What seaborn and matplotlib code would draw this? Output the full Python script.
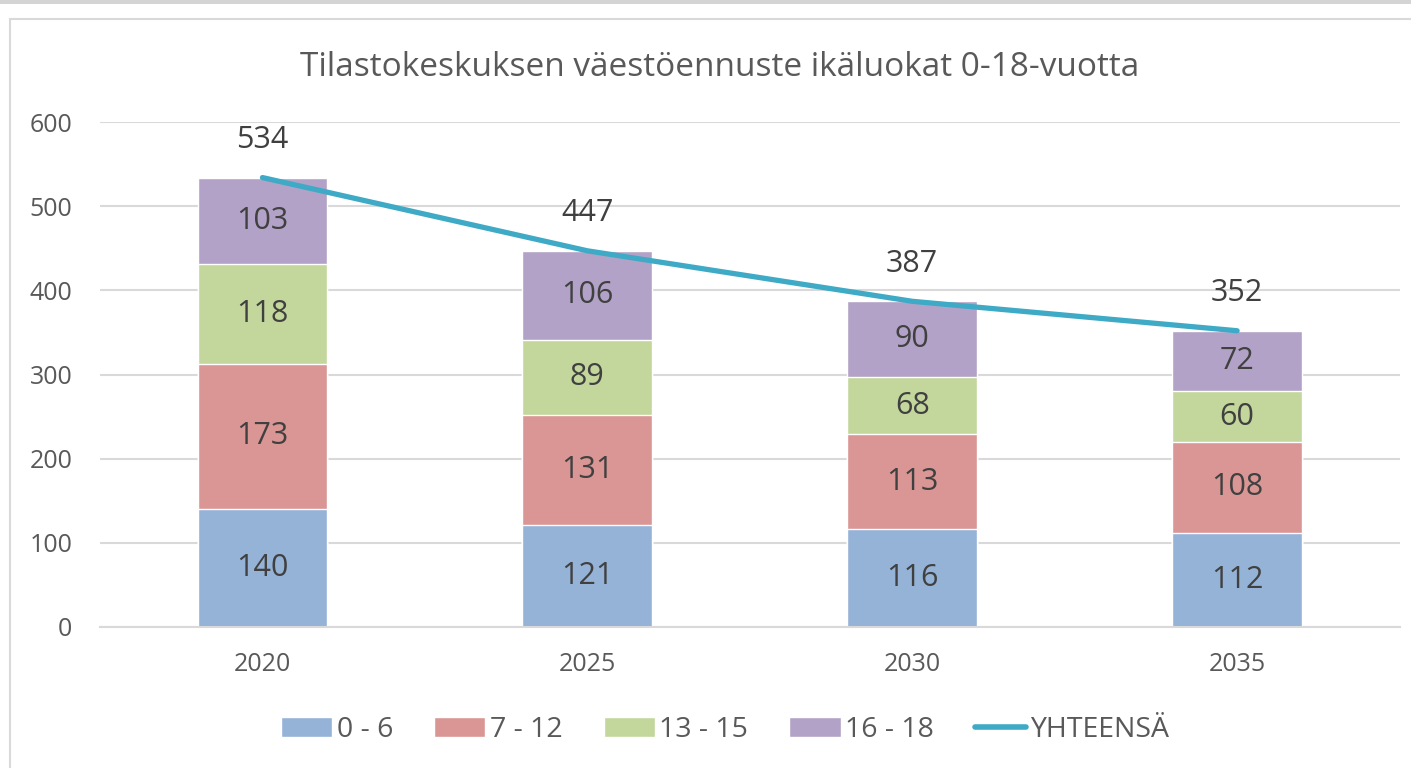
import numpy as np
import pandas as pd
import matplotlib.pyplot as plt
import seaborn as sns
from matplotlib.patches import Patch, Rectangle
from matplotlib.lines import Line2D

# Data
years = ["2020", "2025", "2030", "2035"]
groups = ["0 - 6", "7 - 12", "13 - 15", "16 - 18"]
age_0_6 = [140, 121, 116, 112]
age_7_12 = [173, 131, 113, 108]
age_13_15 = [118, 89, 68, 60]
age_16_18 = [103, 106, 90, 72]
totals = [534, 447, 387, 352]

colors = ["#95b3d7", "#d99694", "#c3d69b", "#b3a2c7"]
line_color = "#3eaac6"
text_dark = "#404040"
text_gray = "#595959"

sns.set_theme(style="white")
plt.rcParams["font.family"] = ["Open Sans", "DejaVu Sans"]

df = pd.DataFrame({"year": years, "0 - 6": age_0_6, "7 - 12": age_7_12,
                   "13 - 15": age_13_15, "16 - 18": age_16_18})

fig = plt.figure(figsize=(14.11, 7.68), dpi=100)
ax = fig.add_axes([0.0709, 0.1836, 0.921, 0.6575])

# stacked bars: draw cumulative sums from top down
cum = df[groups].cumsum(axis=1)
for g, c in reversed(list(zip(groups, colors))):
    sns.barplot(x=df["year"], y=cum[g], color=c, width=0.4, saturation=1,
                ax=ax, order=years)

# segment labels
for i in range(len(years)):
    bottom = 0
    for g in groups:
        v = df[g][i]
        ax.text(i, bottom + v / 2, str(v), ha="center", va="center",
                fontsize=22, color=text_dark)
        bottom += v

# total line
x_pos = np.arange(len(years))
sns.lineplot(x=x_pos, y=totals, color=line_color, linewidth=3.8, ax=ax)
for i, t in enumerate(totals):
    ax.annotate(str(t), (i, t), xytext=(0, 27), textcoords="offset points",
                ha="center", va="center", fontsize=22, color=text_dark)

ax.set_ylim(0, 600)
ax.set_xlim(-0.5, 3.5)
ax.set_yticks(range(0, 601, 100))
ax.set_xlabel("")
ax.set_ylabel("")
ax.yaxis.grid(True, color="#d9d9d9", linewidth=1.5)
ax.set_axisbelow(True)
for s in ["top", "right", "left"]:
    ax.spines[s].set_visible(False)
ax.spines["bottom"].set_color("#d9d9d9")
ax.spines["bottom"].set_linewidth(1.5)
ax.tick_params(axis="y", length=0, pad=20, labelsize=18, labelcolor=text_gray)
ax.tick_params(axis="x", length=0, pad=18, labelsize=18, labelcolor=text_gray)

fig.text(0.510, 1 - 68 / 768, "Tilastokeskuksen väestöennuste ikäluokat 0-18-vuotta",
         ha="center", va="center", fontsize=24, color=text_gray)

handles = [Patch(facecolor=c, label=g) for g, c in zip(groups, colors)]
handles.append(Line2D([0], [0], color=line_color, linewidth=4, label="YHTEENSÄ"))
fig.legend(handles=handles, loc="center", bbox_to_anchor=(0.514, 1 - 730 / 768),
           ncol=5, frameon=False, fontsize=20.5, handlelength=1.8, handleheight=0.65,
           handletextpad=0.15, columnspacing=1.45, labelcolor=text_gray)

# outer frame like the screenshot
fig.patches.append(Rectangle((10 / 1411, -0.01), 1.0, 1 - 19 / 768 + 0.01,
                             transform=fig.transFigure, fill=False,
                             edgecolor="#d9d9d9", linewidth=1.5, zorder=0))
fig.patches.append(Rectangle((0, 1 - 4 / 768), 1.0, 4 / 768,
                             transform=fig.transFigure, facecolor="#d4d4d4",
                             edgecolor="none", zorder=0))

fig.savefig("out.png", dpi=100)
